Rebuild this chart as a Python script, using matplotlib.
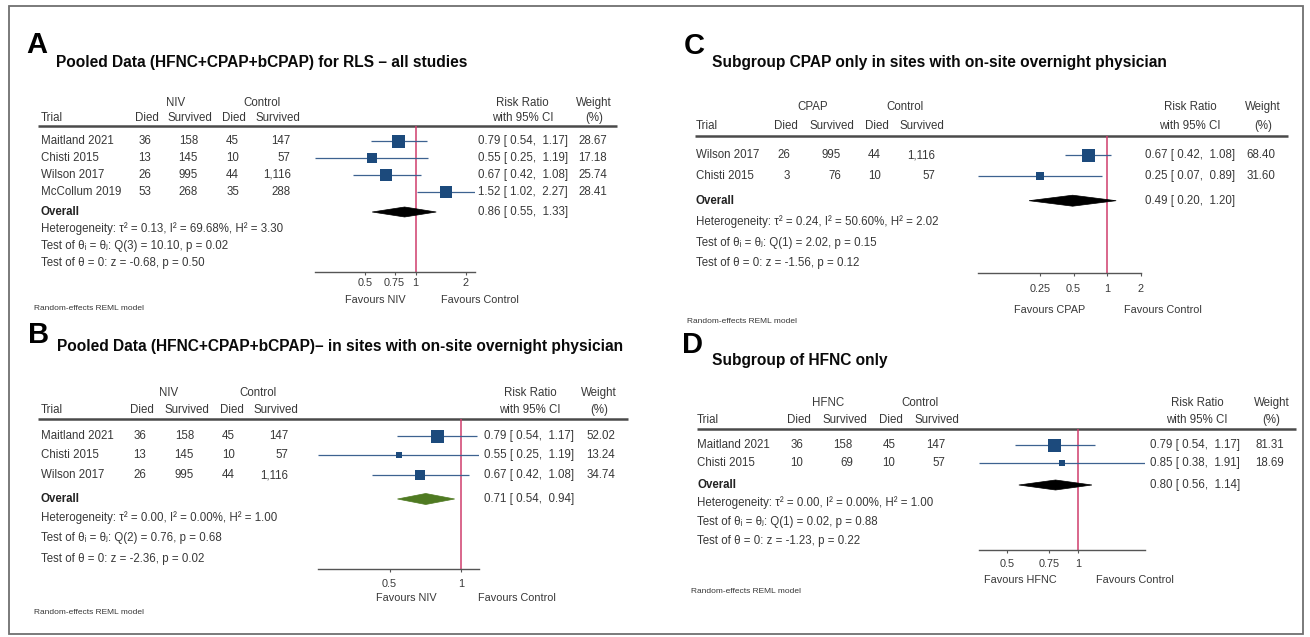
import matplotlib
matplotlib.use('Agg')
import matplotlib.pyplot as plt
import numpy as np
from matplotlib.patches import Polygon, Rectangle

plt.rcParams['font.family'] = ['Liberation Sans', 'DejaVu Sans']

W, H = 1310, 637

# ---------------- data ----------------
# Panel A
A_trials = ["Maitland 2021", "Chisti 2015", "Wilson 2017", "McCollum 2019"]
A_died_t = [36, 13, 26, 53]
A_surv_t = [158, 145, 995, 268]
A_died_c = [45, 10, 44, 35]
A_surv_c = [147, 57, 1116, 288]
A_rr = [0.79, 0.55, 0.67, 1.52]
A_lo = [0.54, 0.25, 0.42, 1.02]
A_hi = [1.17, 1.19, 1.08, 2.27]
A_wt = [28.67, 17.18, 25.74, 28.41]
A_overall = [0.86, 0.55, 1.33]
A_het = [0.13, 69.68, 3.30]
A_q = [3, 10.10, 0.02]
A_z = [-0.68, 0.50]
A_ticks = [0.5, 0.75, 1, 2]

# Panel B
B_trials = ["Maitland 2021", "Chisti 2015", "Wilson 2017"]
B_died_t = [36, 13, 26]
B_surv_t = [158, 145, 995]
B_died_c = [45, 10, 44]
B_surv_c = [147, 57, 1116]
B_rr = [0.79, 0.55, 0.67]
B_lo = [0.54, 0.25, 0.42]
B_hi = [1.17, 1.19, 1.08]
B_wt = [52.02, 13.24, 34.74]
B_overall = [0.71, 0.54, 0.94]
B_het = [0.00, 0.00, 1.00]
B_q = [2, 0.76, 0.68]
B_z = [-2.36, 0.02]
B_ticks = [0.5, 1]

# Panel C
C_trials = ["Wilson 2017", "Chisti 2015"]
C_died_t = [26, 3]
C_surv_t = [995, 76]
C_died_c = [44, 10]
C_surv_c = [1116, 57]
C_rr = [0.67, 0.25]
C_lo = [0.42, 0.07]
C_hi = [1.08, 0.89]
C_wt = [68.40, 31.60]
C_overall = [0.49, 0.20, 1.20]
C_het = [0.24, 50.60, 2.02]
C_q = [1, 2.02, 0.15]
C_z = [-1.56, 0.12]
C_ticks = [0.25, 0.5, 1, 2]

# Panel D
D_trials = ["Maitland 2021", "Chisti 2015"]
D_died_t = [36, 10]
D_surv_t = [158, 69]
D_died_c = [45, 10]
D_surv_c = [147, 57]
D_rr = [0.79, 0.85]
D_lo = [0.54, 0.38]
D_hi = [1.17, 1.91]
D_wt = [81.31, 18.69]
D_overall = [0.80, 0.56, 1.14]
D_het = [0.00, 0.00, 1.00]
D_q = [1, 0.02, 0.88]
D_z = [-1.23, 0.22]
D_ticks = [0.5, 0.75, 1]

# ---------------- styles ----------------
TXT = '#383838'
FS = 8.3
FS_AX = 7.8
BOX = '#1c4a7c'
CILINE = '#3d6290'
REF = '#cf3d6c'
AXC = '#555555'

fig = plt.figure(figsize=(W / 100, H / 100), dpi=100)
bg = fig.add_axes([0, 0, 1, 1])
bg.set_xlim(0, W)
bg.set_ylim(H, 0)
bg.axis('off')

# outer frame
bg.add_patch(Rectangle((9, 6), 1294, 628, fill=False, ec='#707070', lw=1.3))


def fmt_tick(v):
    return ('%g' % v)


def panel(L, letter, title, arm, trials, dt, st, dc, sc, rr, lo, hi, wt,
          overall, het, q, z, ticks, dcol):
    # letter and title
    bg.text(L['lx'], L['ly'], letter, fontsize=21, fontweight='bold',
            ha='left', va='center', color='black')
    bg.text(L['tx'], L['ty'], title, fontsize=11.2, fontweight='bold',
            ha='left', va='center', color='#0a0a0a')
    # column headers
    bg.text(L['gh'][0], L['g_y'], arm, fontsize=FS, ha='center', va='center', color=TXT)
    bg.text(L['gh'][1], L['g_y'], 'Control', fontsize=FS, ha='center', va='center', color=TXT)
    bg.text(L['trial_x'], L['h_y'], 'Trial', fontsize=FS, ha='left', va='center', color=TXT)
    for cx, lab in zip(L['hc'], ['Died', 'Survived', 'Died', 'Survived']):
        bg.text(cx, L['h_y'], lab, fontsize=FS, ha='center', va='center', color=TXT)
    bg.text(L['rr_hx'], L['g_y'], 'Risk Ratio', fontsize=FS, ha='center', va='center', color=TXT)
    bg.text(L['rr_hx'], L['h_y'], 'with 95% CI', fontsize=FS, ha='center', va='center', color=TXT)
    bg.text(L['w_hx'], L['g_y'], 'Weight', fontsize=FS, ha='center', va='center', color=TXT)
    bg.text(L['w_hx'], L['h_y'], '(%)', fontsize=FS, ha='center', va='center', color=TXT)
    bg.plot([L['line_x0'], L['line_x1']], [L['line_y'], L['line_y']], color='#4a4a4a', lw=1.8,
            solid_capstyle='butt')

    n = len(trials)
    rows_y = [L['row0'] + i * L['step'] for i in range(n)]
    for i in range(n):
        y = rows_y[i]
        bg.text(L['trial_x'], y, trials[i], fontsize=FS, ha='left', va='center', color=TXT)
        for rx, v in zip(L['num_r'], [dt[i], st[i], dc[i], sc[i]]):
            bg.text(rx, y, f"{v:,}", fontsize=FS, ha='right', va='center', color=TXT)
        bg.text(L['rr_x'], y, f"{rr[i]:.2f} [ {lo[i]:.2f},  {hi[i]:.2f}]", fontsize=FS,
                ha='left', va='center', color=TXT)
        bg.text(L['w_x'], y, f"{wt[i]:.2f}", fontsize=FS, ha='center', va='center', color=TXT)

    oy = L['ov_y']
    bg.text(L['trial_x'], oy, 'Overall', fontsize=FS, fontweight='bold', ha='left', va='center', color='#222222')
    bg.text(L['rr_x'], oy, f"{overall[0]:.2f} [ {overall[1]:.2f},  {overall[2]:.2f}]", fontsize=FS,
            ha='left', va='center', color=TXT)
    stats = [f"Heterogeneity: τ² = {het[0]:.2f}, I² = {het[1]:.2f}%, H² = {het[2]:.2f}",
             f"Test of θᵢ = θⱼ: Q({q[0]}) = {q[1]:.2f}, p = {q[2]:.2f}",
             f"Test of θ = 0: z = {z[0]:.2f}, p = {z[1]:.2f}"]
    for k, s in enumerate(stats):
        bg.text(L['trial_x'], L['st_y'][k], s, fontsize=FS, ha='left', va='center', color=TXT)
    bg.text(L['re_x'], L['re_y'], 'Random-effects REML model', fontsize=6, ha='left', va='center', color=TXT)
    bg.text(L['fav_l'], L['fav_y'], f'Favours {arm}', fontsize=FS_AX, ha='center', va='center', color=TXT)
    bg.text(L['fav_r'], L['fav_y'], 'Favours Control', fontsize=FS_AX, ha='center', va='center', color=TXT)

    # forest axes
    x0, x1 = L['ax_x']
    y0, y1 = L['line_y'], L['axis_y']
    ax = fig.add_axes([x0 / W, 1 - y1 / H, (x1 - x0) / W, (y1 - y0) / H])
    ax.patch.set_alpha(0)
    ax.set_xscale('log')
    xmin = min(min(lo), min(ticks))
    xmax = max(max(hi), max(ticks))
    ax.set_xlim(xmin, xmax)
    ax.set_ylim(y1, y0)
    for s in ['top', 'right', 'left']:
        ax.spines[s].set_visible(False)
    ax.spines['bottom'].set_color(AXC)
    ax.spines['bottom'].set_linewidth(1.0)
    ax.set_yticks([])
    ax.set_xticks(ticks)
    ax.set_xticklabels([fmt_tick(t) for t in ticks])
    ax.xaxis.set_minor_locator(matplotlib.ticker.NullLocator())
    ax.tick_params(axis='x', direction='out', length=2.5, width=0.8, color=AXC,
                   labelsize=FS_AX, labelcolor=TXT, pad=L['pad'])
    ax.axvline(1, color=REF, lw=1.1, zorder=1)
    wmax = max(wt)
    for i in range(n):
        y = rows_y[i]
        ax.plot([lo[i], hi[i]], [y, y], color=CILINE, lw=0.9, zorder=2, solid_capstyle='butt')
        side = 13.0 * np.sqrt(wt[i] / wmax) * 0.72
        ax.plot([rr[i]], [y], marker='s', ms=side, color=BOX, mec=BOX, mew=0, zorder=3)
    h = L['dh']
    ax.add_patch(Polygon([(overall[1], oy), (overall[0], oy - h / 2), (overall[2], oy),
                          (overall[0], oy + h / 2)], closed=True, fc=dcol, ec=dcol, lw=0.5, zorder=3))
    return ax


LA = dict(lx=26, ly=45, tx=56, ty=62, g_y=103, h_y=117.7, trial_x=40.7,
          gh=[176, 261.7], hc=[146.7, 190, 234, 277.7],
          rr_hx=522.7, w_hx=594.3, line_x0=38, line_x1=617, line_y=125.5,
          row0=140.7, step=17.0, num_r=[151, 198, 239, 290.7],
          rr_x=478.3, w_x=592.5, ov_y=212, st_y=[229, 245.7, 262.7],
          re_x=34, re_y=309, fav_l=375, fav_r=480, fav_y=300,
          ax_x=(315, 475), axis_y=271.7, pad=2, dh=10)
LB = dict(lx=28, ly=335, tx=57, ty=346, g_y=392.7, h_y=410, trial_x=40.7,
          gh=[168.3, 258.3], hc=[141.7, 186.7, 232.3, 276],
          rr_hx=530, w_hx=599, line_x0=38, line_x1=628, line_y=419,
          row0=435.7, step=19.65, num_r=[146, 194, 235, 288.3],
          rr_x=484, w_x=601, ov_y=499, st_y=[518, 538, 559],
          re_x=34, re_y=613, fav_l=406.7, fav_r=516.7, fav_y=598,
          ax_x=(318, 479), axis_y=569, pad=4.5, dh=11)
LC = dict(lx=684, ly=46, tx=712, ty=62, g_y=106.7, h_y=126, trial_x=696,
          gh=[813, 905], hc=[786, 831.7, 877, 921.7],
          rr_hx=1190, w_hx=1263, line_x0=695, line_x1=1288, line_y=136,
          row0=155, step=20.7, num_r=[790, 841, 881, 935],
          rr_x=1145, w_x=1261, ov_y=200.7, st_y=[221.7, 242.7, 263.3],
          re_x=687, re_y=321.7, fav_l=1050, fav_r=1163.3, fav_y=310,
          ax_x=(978, 1141), axis_y=273.3, pad=5.5, dh=11)
LD = dict(lx=682, ly=345, tx=712, ty=361, g_y=402.7, h_y=420, trial_x=697,
          gh=[828, 920], hc=[799, 844.5, 891, 937],
          rr_hx=1197, w_hx=1271.5, line_x0=697, line_x1=1296, line_y=428.7,
          row0=445, step=17.7, num_r=[803, 852.8, 895.5, 945],
          rr_x=1150.5, w_x=1269.5, ov_y=485, st_y=[503, 521.7, 540.7],
          re_x=691, re_y=591.7, fav_l=1020.7, fav_r=1134.7, fav_y=580,
          ax_x=(979, 1145), axis_y=550, pad=4, dh=10)

panel(LA, 'A', 'Pooled Data (HFNC+CPAP+bCPAP) for RLS \u2013 all studies', 'NIV',
      A_trials, A_died_t, A_surv_t, A_died_c, A_surv_c, A_rr, A_lo, A_hi, A_wt,
      A_overall, A_het, A_q, A_z, A_ticks, '#000000')
panel(LB, 'B', 'Pooled Data (HFNC+CPAP+bCPAP)\u2013 in sites with on-site overnight physician', 'NIV',
      B_trials, B_died_t, B_surv_t, B_died_c, B_surv_c, B_rr, B_lo, B_hi, B_wt,
      B_overall, B_het, B_q, B_z, B_ticks, '#4f7a22')
panel(LC, 'C', 'Subgroup CPAP only in sites with on-site overnight physician', 'CPAP',
      C_trials, C_died_t, C_surv_t, C_died_c, C_surv_c, C_rr, C_lo, C_hi, C_wt,
      C_overall, C_het, C_q, C_z, C_ticks, '#000000')
panel(LD, 'D', 'Subgroup of HFNC only', 'HFNC',
      D_trials, D_died_t, D_surv_t, D_died_c, D_surv_c, D_rr, D_lo, D_hi, D_wt,
      D_overall, D_het, D_q, D_z, D_ticks, '#000000')

fig.savefig('out.png', dpi=100)
